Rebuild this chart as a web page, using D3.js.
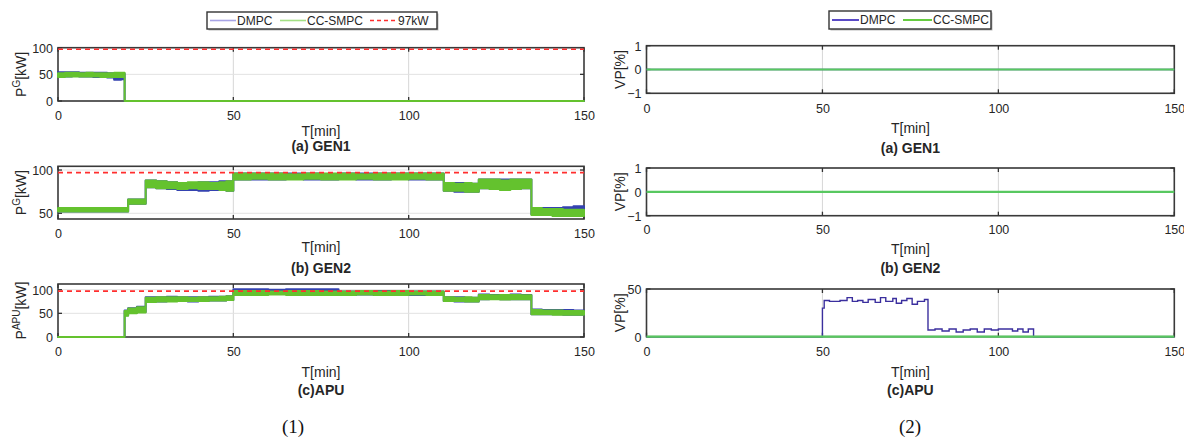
<!DOCTYPE html>
<html><head><meta charset="utf-8">
<script src="https://cdn.jsdelivr.net/npm/d3@7"></script>
<style>body{margin:0;background:#fff}svg{display:block;font-family:'Liberation Sans',Arial,sans-serif}</style>
</head><body>
<svg id="c" width="1184" height="444"></svg>
<script>
// ---------- data ----------
const xTickVals = [0, 50, 100, 150];
const gen1YTicks = [0, 50, 100];
const gen2YTicks = [50, 100];
const apuYTicks = [0, 50, 100];
const vpSmallTicks = [-1, 0, 1];
const vpApuTicks = [0, 50];
const limitKW = 97;
const seriesNames = ['DMPC', 'CC-SMPC'];
const limitName = '97kW';
const leftTitles = ['(a) GEN1', '(b) GEN2', '(c)APU'];
const rightTitles = ['(a) GEN1', '(b) GEN2', '(c)APU'];
const xLabel = 'T[min]';
const figLabels = ['(1)', '(2)'];

// GEN1 power band (min/max envelope)
const gen1Time    = [0, 2, 4, 6, 8, 10, 12, 14, 16, 18, 19, 150];
const gen1DmpcLo  = [46, 46, 47, 46, 46, 45, 45, 44, 40, 41, 0, 0];
const gen1DmpcHi  = [54, 54, 54, 53, 53, 53, 53, 52, 49, 51, 0, 0];
const gen1CcLo    = [45, 46, 46, 46, 46, 46, 45, 45, 45, 45, 0, 0];
const gen1CcHi    = [52, 53, 53, 52, 53, 52, 52, 52, 53, 53, 0, 0];

// GEN2 power band
const gen2Time   = [0, 5, 10, 15, 20, 22.5, 25, 28, 31, 34, 37, 40, 43, 46, 48, 50, 55, 60, 65, 70, 75, 80, 85, 90, 95, 100, 105, 110, 113, 116, 118, 120, 123, 126, 129, 132, 135, 138, 141, 144, 147, 150];
const gen2CcLo   = [52, 52, 52, 52, 61, 61, 80, 79, 79, 78, 79, 78, 78, 77, 76, 89, 90, 89, 89, 90, 89, 89, 90, 89, 89, 90, 89, 76, 76, 75, 75, 79, 78, 77, 78, 79, 48, 48, 47, 47, 47, 47];
const gen2CcHi   = [56, 56, 56, 56, 66, 66, 88, 87, 86, 85, 86, 86, 85, 86, 87, 96, 96, 96, 95, 96, 96, 96, 95, 96, 96, 96, 96, 85, 84, 85, 84, 89, 89, 88, 89, 89, 56, 55, 55, 54, 54, 54];
const gen2DmpcLo = [52, 52, 52, 52, 61, 61, 80, 79, 78, 77, 77, 76, 77, 77, 76, 89, 89, 89, 90, 89, 89, 90, 89, 89, 90, 89, 89, 76, 75, 75, 75, 79, 79, 78, 78, 79, 49, 49, 49, 50, 51, 51];
const gen2DmpcHi = [56, 56, 56, 56, 66, 66, 88, 87, 86, 85, 85, 86, 86, 87, 87, 96, 96, 96, 96, 96, 95, 96, 96, 96, 96, 96, 96, 85, 85, 84, 84, 89, 89, 89, 89, 89, 56, 56, 56, 57, 58, 58];

// APU power band
const apuTime   = [0, 19, 20, 22.5, 25, 28, 31, 34, 37, 40, 43, 46, 48, 50, 55, 60, 65, 70, 75, 80, 85, 90, 95, 100, 105, 110, 113, 116, 118, 120, 123, 126, 129, 132, 135, 138, 141, 144, 147, 150];
const apuCcLo   = [0, 45, 50, 52, 74, 75, 75, 76, 76, 76, 77, 77, 78, 89, 89, 90, 89, 89, 89, 89, 90, 89, 89, 90, 89, 76, 76, 75, 75, 80, 80, 79, 80, 80, 48, 48, 47, 47, 47, 47];
const apuCcHi   = [0, 55, 60, 63, 83, 84, 84, 84, 83, 84, 84, 85, 86, 97, 97, 96, 97, 97, 96, 96, 97, 96, 97, 96, 96, 84, 83, 84, 83, 89, 88, 89, 89, 88, 57, 56, 56, 55, 55, 55];
const apuDmpcLo = [0, 46, 51, 53, 75, 75, 76, 76, 75, 76, 77, 77, 78, 92, 93, 92, 93, 92, 93, 89, 90, 89, 90, 89, 89, 76, 75, 75, 75, 80, 81, 80, 80, 80, 48, 48, 48, 47, 47, 47];
const apuDmpcHi = [0, 56, 61, 64, 84, 84, 85, 84, 84, 84, 85, 85, 86, 101, 101, 100, 101, 101, 101, 96, 96, 97, 96, 96, 96, 84, 84, 83, 83, 90, 89, 89, 90, 89, 58, 57, 57, 57, 56, 56];

// Voltage/VP percentages
const vpFlatTime   = [0, 150];
const gen1VpDmpc   = [0, 0];
const gen1VpCc     = [0, 0];
const gen2VpDmpc   = [0, 0];
const gen2VpCc     = [0, 0];
const apuVpCcTime  = [0, 150];
const apuVpCc      = [0, 0];
const apuVpTime    = [0, 50, 50.5, 52, 55, 57, 58.5, 60, 61.5, 63, 65, 66.5, 68, 70, 71, 72.5, 74, 75.5, 77, 79, 80, 82, 84, 86, 88, 90, 92, 94, 96, 98, 100, 102, 104, 105.5, 107, 108.5, 110, 150];
const apuVpDmpc    = [0, 30, 38, 37, 38, 41, 37, 38, 36, 39, 36, 41, 37, 40, 35, 38, 40, 34, 37, 39, 7, 8, 6, 8, 5, 7, 8, 5, 8, 7, 8, 8, 6, 8, 5, 8, 0, 0];

// ---------- drawing ----------
const svg = d3.select('#c');
const TXT = '#262626';
const GREEN = '#64c22e';
const BLUE = '#3442b0';
const VPBLUE = '#3b2f9e';
const VPGREEN = '#58c860';
const RED = '#ff2e2e';

function zip(t, a, b) { return t.map((v, i) => ({t: v, a: a[i], b: b ? b[i] : a[i]})); }

function panel(c) {
  const x = d3.scaleLinear().domain([0, 150]).range([c.x0, c.x1]);
  const y = d3.scaleLinear().domain(c.yDom).range([c.y1, c.y0]);
  const g = svg.append('g');
  g.append('g').selectAll('line').data(xTickVals.slice(1, -1)).join('line')
    .attr('x1', d => x(d)).attr('x2', d => x(d)).attr('y1', c.y0).attr('y2', c.y1)
    .attr('stroke', '#d6d6d6').attr('stroke-width', 1);
  g.append('g').selectAll('line').data(c.yTicks).join('line')
    .attr('x1', c.x0).attr('x2', c.x1).attr('y1', d => y(d)).attr('y2', d => y(d))
    .attr('stroke', '#e2e2e2').attr('stroke-width', 1);
  g.append('rect').attr('x', c.x0).attr('y', c.y0).attr('width', c.x1 - c.x0).attr('height', c.y1 - c.y0)
    .attr('fill', 'none').attr('stroke', '#3a3a3a').attr('stroke-width', 1.6);
  const tk = g.append('g').attr('stroke', '#333').attr('stroke-width', 1.3);
  xTickVals.forEach(v => {
    tk.append('line').attr('x1', x(v)).attr('x2', x(v)).attr('y1', c.y1).attr('y2', c.y1 - 4);
    tk.append('line').attr('x1', x(v)).attr('x2', x(v)).attr('y1', c.y0).attr('y2', c.y0 + 4);
  });
  c.yTicks.forEach(v => {
    tk.append('line').attr('x1', c.x0).attr('x2', c.x0 + 4).attr('y1', y(v)).attr('y2', y(v));
    tk.append('line').attr('x1', c.x1).attr('x2', c.x1 - 4).attr('y1', y(v)).attr('y2', y(v));
  });
  const ax = g.append('g').attr('transform', `translate(0,${c.y1})`)
    .call(d3.axisBottom(x).tickValues(xTickVals).tickSize(0).tickFormat(d3.format('d')));
  ax.select('.domain').remove();
  ax.selectAll('text').attr('y', c.xLabY).attr('dy', '0.35em')
    .attr('font-size', 12.5).attr('fill', TXT).attr('font-family', 'Liberation Sans, Arial, sans-serif');
  const ay = g.append('g').attr('transform', `translate(${c.x0},0)`)
    .call(d3.axisLeft(y).tickValues(c.yTicks).tickSize(0).tickFormat(d3.format('d')));
  ay.select('.domain').remove();
  ay.selectAll('text').attr('x', -5).attr('dy', '0.35em')
    .attr('font-size', 12.5).attr('fill', TXT).attr('font-family', 'Liberation Sans, Arial, sans-serif');
  const cx = (c.x0 + c.x1) / 2;
  g.append('text').attr('x', cx).attr('y', c.tY).attr('dy', '0.35em').attr('text-anchor', 'middle')
    .attr('font-size', 14).attr('fill', TXT).text(xLabel);
  g.append('text').attr('x', cx).attr('y', c.titleY).attr('dy', '0.35em').attr('text-anchor', 'middle')
    .attr('font-size', 14).attr('font-weight', 'bold').attr('fill', TXT).text(c.title);
  const yl = g.append('text').attr('transform', `translate(${c.yLabX},${(c.y0 + c.y1) / 2}) rotate(-90)`)
    .attr('text-anchor', 'middle').attr('font-size', 14).attr('fill', TXT);
  yl.append('tspan').text(c.yLab[0]);
  if (c.yLab[1]) {
    yl.append('tspan').attr('font-size', 10).attr('dy', -6).text(c.yLab[1]);
    yl.append('tspan').attr('dy', 6).text(c.yLab[2]);
  }
  return {g, x, y};
}

function band(p, t, lo, hi, color) {
  const area = d3.area().curve(d3.curveStepAfter)
    .x(d => p.x(d.t)).y0(d => p.y(d.a)).y1(d => p.y(d.b));
  p.g.append('path').attr('d', area(zip(t, lo, hi)))
    .attr('fill', color).attr('stroke', color).attr('stroke-width', 2).attr('stroke-linejoin', 'round');
}
function stepLine(p, t, v, color, w) {
  const line = d3.line().curve(d3.curveStepAfter).x(d => p.x(d.t)).y(d => p.y(d.a));
  p.g.append('path').attr('d', line(zip(t, v))).attr('fill', 'none').attr('stroke', color).attr('stroke-width', w);
}
function limitLine(p) {
  p.g.append('line').attr('x1', p.x(0)).attr('x2', p.x(150)).attr('y1', p.y(limitKW)).attr('y2', p.y(limitKW))
    .attr('stroke', RED).attr('stroke-width', 1.6).attr('stroke-dasharray', '5,4');
}

const L = {x0: 58, x1: 584};
const R = {x0: 646.5, x1: 1174.3};

const p1 = panel({...L, y0: 47.7, y1: 101, yDom: [0, 100], yTicks: gen1YTicks, xLabY: 15, tY: 131, titleY: 146, title: leftTitles[0], yLabX: 26, yLab: ['P', 'G', '[kW]']});
band(p1, gen1Time, gen1DmpcLo, gen1DmpcHi, BLUE);
band(p1, gen1Time, gen1CcLo, gen1CcHi, GREEN);
limitLine(p1);

const p2 = panel({...L, y0: 166.3, y1: 219, yDom: [43.4, 104.3], yTicks: gen2YTicks, xLabY: 15, tY: 247, titleY: 268, title: leftTitles[1], yLabX: 26, yLab: ['P', 'G', '[kW]']});
band(p2, gen2Time, gen2DmpcLo, gen2DmpcHi, BLUE);
band(p2, gen2Time, gen2CcLo, gen2CcHi, GREEN);
limitLine(p2);

const p3 = panel({...L, y0: 284, y1: 337, yDom: [0, 112], yTicks: apuYTicks, xLabY: 15, tY: 372, titleY: 390, title: leftTitles[2], yLabX: 26, yLab: ['P', 'APU', '[kW]']});
band(p3, apuTime, apuDmpcLo, apuDmpcHi, BLUE);
band(p3, apuTime, apuCcLo, apuCcHi, GREEN);
limitLine(p3);

const q1 = panel({...R, y0: 45.7, y1: 93.3, yDom: [-1, 1], yTicks: vpSmallTicks, xLabY: 15, tY: 128, titleY: 148, title: rightTitles[0], yLabX: 625, yLab: ['VP[%]']});
stepLine(q1, vpFlatTime, gen1VpDmpc, VPBLUE, 1.4);
stepLine(q1, vpFlatTime, gen1VpCc, VPGREEN, 2.2);

const q2 = panel({...R, y0: 168, y1: 215.7, yDom: [-1, 1], yTicks: vpSmallTicks, xLabY: 14, tY: 249, titleY: 268, title: rightTitles[1], yLabX: 625, yLab: ['VP[%]']});
stepLine(q2, vpFlatTime, gen2VpDmpc, VPBLUE, 1.4);
stepLine(q2, vpFlatTime, gen2VpCc, VPGREEN, 2.2);

const q3 = panel({...R, y0: 289, y1: 336.7, yDom: [0, 50], yTicks: vpApuTicks, xLabY: 15, tY: 372, titleY: 390, title: rightTitles[2], yLabX: 625, yLab: ['VP[%]']});
stepLine(q3, apuVpTime, apuVpDmpc, VPBLUE, 1.4);
stepLine(q3, apuVpCcTime, apuVpCc, VPGREEN, 2.2);

function legend(x0, x1, y0, y1, items) {
  const g = svg.append('g');
  g.append('rect').attr('x', x0 + 1.5).attr('y', y0 + 1.5).attr('width', x1 - x0).attr('height', y1 - y0).attr('fill', '#bbb');
  g.append('rect').attr('x', x0).attr('y', y0).attr('width', x1 - x0).attr('height', y1 - y0)
    .attr('fill', '#fff').attr('stroke', '#333').attr('stroke-width', 1.4);
  const cy = (y0 + y1) / 2;
  items.forEach(it => {
    g.append('line').attr('x1', it.lx0).attr('x2', it.lx1).attr('y1', cy).attr('y2', cy)
      .attr('stroke', it.color).attr('stroke-width', it.w).attr('stroke-dasharray', it.dash || null);
    g.append('text').attr('x', it.lx1 + 1).attr('y', cy).attr('dy', '0.35em')
      .attr('font-size', 12).attr('fill', TXT).text(it.label);
  });
}
legend(207, 437, 12, 29, [
  {label: seriesNames[0], color: '#a8a4e6', w: 1.6, lx0: 210, lx1: 236},
  {label: seriesNames[1], color: '#a3e084', w: 1.6, lx0: 280, lx1: 306},
  {label: limitName, color: RED, w: 1.6, dash: '4,3', lx0: 370, lx1: 397}
]);
legend(829, 991, 11, 29, [
  {label: seriesNames[0], color: '#5a4ac6', w: 2, lx0: 832, lx1: 859},
  {label: seriesNames[1], color: '#66cc40', w: 2, lx0: 903, lx1: 932}
]);

svg.append('text').attr('x', 293).attr('y', 426).attr('dy', '0.35em').attr('text-anchor', 'middle')
  .attr('font-family', 'Liberation Serif, Times New Roman, serif').attr('font-size', 19).attr('fill', '#111').text(figLabels[0]);
svg.append('text').attr('x', 910).attr('y', 426).attr('dy', '0.35em').attr('text-anchor', 'middle')
  .attr('font-family', 'Liberation Serif, Times New Roman, serif').attr('font-size', 19).attr('fill', '#111').text(figLabels[1]);
</script>
</body></html>
